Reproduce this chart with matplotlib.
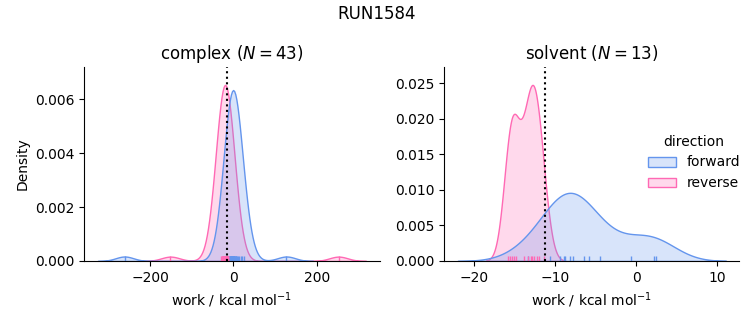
import numpy as np
import pandas as pd
import seaborn as sns
from matplotlib import pyplot as plt

run_name = 'RUN1584'

# work values (kcal/mol)
complex_forward = [-261, 127,
                   -16, -13, -11, -10, -9, -8, -8, -7, -6, -6, -5, -5, -4, -4, -4,
                   -3, -3, -3, -2, -2, -2, -1, -1, -1, 0, 0, 1, 1, 2, 2, 3, 4, 5,
                   6, 7, 9, 11, 14, 17, 21, 25]
complex_reverse = [-151, 252,
                   -29, -28, -27, -26, -25, -25, -24, -24, -23, -23, -23, -22, -22,
                   -22, -21, -21, -21, -21, -20, -20, -20, -20, -19, -19, -19, -19,
                   -18, -18, -18, -17, -17, -17, -16, -16, -16, -15, -15, -15, -14,
                   -14, -14]
solvent_forward = [-13.3, -10.6, -9.4, -8.9, -8.7, -8.2, -7.8, -6.4, -5.8, -4.4,
                   -0.6, 2.2, 2.4]
solvent_reverse = [-15.8, -15.5, -15.3, -15.0, -14.8, -13.8, -13.3, -13.0, -12.8,
                   -12.6, -12.2, -11.9, -11.4]

# free energy estimates (dotted lines)
ddg = {'complex': -15.0, 'solvent': -11.2}
n_works = {'complex': 43, 'solvent': 13}

rows = []
for phase, fwd, rev in [('complex', complex_forward, complex_reverse),
                        ('solvent', solvent_forward, solvent_reverse)]:
    rows += [(phase, 'forward', w) for w in fwd]
    rows += [(phase, 'reverse', w) for w in rev]
df = pd.DataFrame(rows, columns=['phase', 'direction', 'work'])

g = sns.displot(data=df, x='work', hue='direction', col='phase', kind='kde',
                fill=True, rug=True, common_norm=True,
                palette={'forward': 'cornflowerblue', 'reverse': 'hotpink'},
                facet_kws=dict(sharex=False, sharey=False), height=3, aspect=1)

fig = g.figure
fig.set_size_inches(7.53, 3.25)
for ax, phase in zip(g.axes.flat, ['complex', 'solvent']):
    ax.axvline(ddg[phase], color='black', linestyle=':', linewidth=1.5)
    ax.set_title(f'{phase} ($N={n_works[phase]}$)')
    ax.set_xlabel('work / kcal mol$^{-1}$')

g.axes[0, 0].set_ylabel('Density')
g.axes[0, 0].set_position([0.112, 0.197, 0.392, 0.596])
g.axes[0, 1].set_position([0.590, 0.197, 0.392, 0.596])

leg = g._legend
leg.set_loc('center right')
leg.set_bbox_to_anchor((1.0, 0.5), transform=fig.transFigure)

fig.suptitle(run_name, y=0.985)
fig.savefig('out.png', dpi=100)
